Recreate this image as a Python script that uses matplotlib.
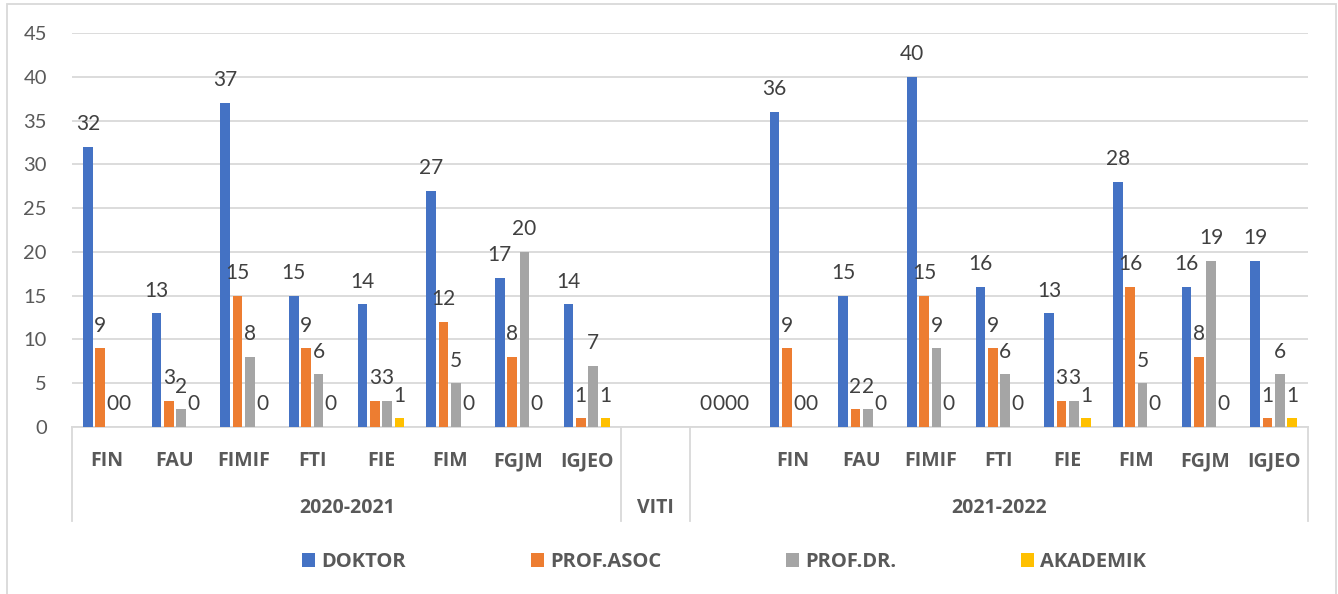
import matplotlib
matplotlib.use('Agg')
import matplotlib.pyplot as plt
import numpy as np
from matplotlib.patches import Rectangle
from matplotlib.transforms import blended_transform_factory

plt.rcParams['font.family'] = ['Lato', 'DejaVu Sans']
BOLD_FAMILY = ['Open Sans', 'DejaVu Sans']

faculties = ['FIN', 'FAU', 'FIMIF', 'FTI', 'FIE', 'FIM', 'FGJM', 'IGJEO']
categories = faculties + ['', ''] + faculties
groups = ['2020-2021', 'VITI', '2021-2022']
group_sizes = [8, 1, 9]
series = ['DOKTOR', 'PROF.ASOC', 'PROF.DR.', 'AKADEMIK']
nan = np.nan
doktor = [32, 13, 37, 15, 14, 27, 17, 14, nan, 0, 36, 15, 40, 16, 13, 28, 16, 19]
prof_asoc = [9, 3, 15, 9, 3, 12, 8, 1, nan, 0, 9, 2, 15, 9, 3, 16, 8, 1]
prof_dr = [0, 2, 8, 6, 3, 5, 20, 7, nan, 0, 0, 2, 9, 6, 3, 5, 19, 6]
akademik = [0, 0, 0, 0, 1, 0, 0, 1, nan, 0, 0, 0, 0, 0, 1, 0, 0, 1]
values = [doktor, prof_asoc, prof_dr, akademik]
colors = ['#4472C4', '#ED7D31', '#A5A5A5', '#FFC000']

W, H = 1338, 594
fig = plt.figure(figsize=(W / 100, H / 100), dpi=100)
ax = fig.add_axes([72 / W, 1 - 427 / H, (1308 - 72) / W, (427 - 33) / H])

x = np.arange(len(categories))
pitch = 0.18
bw = 0.142
handles = []
for i, (name, vals, c) in enumerate(zip(series, values, colors)):
    xs = x + (i - 1.5) * pitch
    v = np.array(vals, dtype=float)
    mask = ~np.isnan(v)
    b = ax.bar(xs[mask], v[mask], width=bw, color=c, label=name, zorder=3)
    handles.append(b)
    for xi, vi in zip(xs[mask], v[mask]):
        ax.annotate(f'{int(vi)}', (xi, vi), xytext=(0, 12), textcoords='offset points',
                    ha='center', va='baseline', fontsize=15, color='#404040', zorder=4)

ax.set_xlim(-0.5, len(categories) - 0.5)
ax.set_ylim(0, 45)
ax.set_yticks(np.arange(0, 46, 5))
ax.tick_params(axis='y', length=0, pad=18, labelsize=14.5, labelcolor='#595959')
ax.set_xticks([])
ax.yaxis.grid(True, color='#d9d9d9', lw=1.3, zorder=0)
for s in ['top', 'right', 'left']:
    ax.spines[s].set_visible(False)
ax.spines['bottom'].set_color('#d9d9d9')
ax.spines['bottom'].set_linewidth(1.3)
ax.set_axisbelow(True)

tr = blended_transform_factory(ax.transData, ax.transAxes)
lvl1_y = (427 - 466) / 394
lvl2_y = (427 - 513) / 394
sep_y = (427 - 521) / 394
for xi, lab in zip(x, categories):
    if lab:
        ax.text(xi, lvl1_y, lab, transform=tr, ha='center', va='baseline',
                fontsize=14, fontweight='bold', family=BOLD_FAMILY, color='#595959')

start = 0
bounds = [-0.5]
for g, n in zip(groups, group_sizes):
    center = start + (n - 1) / 2
    ax.text(center, lvl2_y, g, transform=tr, ha='center', va='baseline',
            fontsize=14, fontweight='bold', family=BOLD_FAMILY, color='#595959')
    start += n
    bounds.append(start - 0.5)
for bx in bounds:
    ax.plot([bx, bx], [0, sep_y], transform=tr, color='#d9d9d9', lw=1.3, clip_on=False)

fig.legend(handles=handles, labels=series, loc='center',
           bbox_to_anchor=(724 / W, 1 - 562 / H), ncol=4, frameon=False,
           prop={'weight': 'bold', 'size': 14.5, 'family': BOLD_FAMILY}, labelcolor='#595959',
           handlelength=0.65, handleheight=0.65, handletextpad=0.3,
           columnspacing=6.2)

fig.patches.append(Rectangle((7 / W, -0.01), (1336 - 7) / W, 1 - 4 / H + 0.01,
                             transform=fig.transFigure, fill=False,
                             edgecolor='#d9d9d9', lw=1.3))

fig.savefig('out.png', dpi=100)
